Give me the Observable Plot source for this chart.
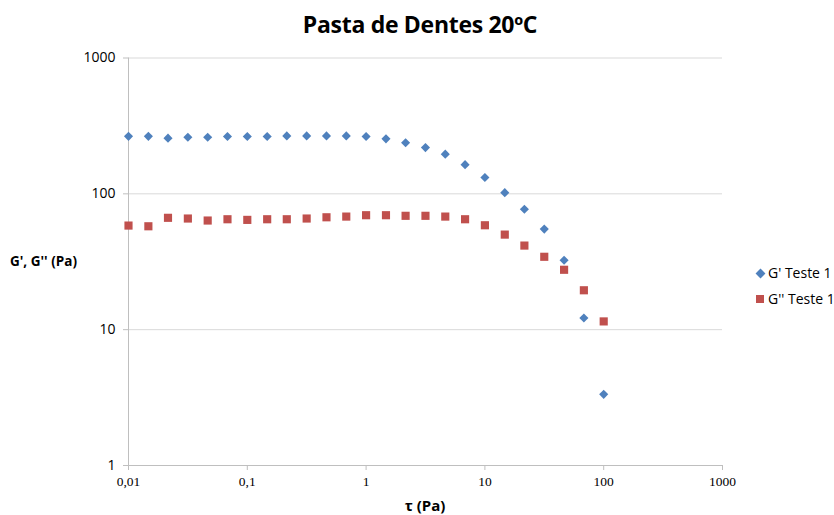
<!DOCTYPE html>
<html>
<head>
<meta charset="utf-8">
<script src="https://cdn.jsdelivr.net/npm/d3@7"></script>
<script src="https://cdn.jsdelivr.net/npm/@observablehq/plot@0.6"></script>
<style>
  html, body { margin: 0; padding: 0; background: #fff; }
  #wrap { position: relative; width: 834px; height: 515px; overflow: hidden; }
  .abs { position: absolute; white-space: nowrap; color: #000; }
  #title { left: 0; width: 840px; top: 8px; text-align: center; font: bold 23px "Open Sans", sans-serif; letter-spacing: -0.3px; }
  #xlabel { left: 0; width: 850px; top: 495px; text-align: center; font: bold 15px "Open Sans", sans-serif; }
  #ylabel { left: 10px; top: 252px; font: bold 13.5px "Open Sans", sans-serif; }
  .leg { font: 14px "Open Sans", sans-serif; color: #000; }
  .diam { position: absolute; width: 7px; height: 7px; background: #4F81BD; transform: rotate(45deg); }
  .sq { position: absolute; width: 8px; height: 8px; background: #C0504D; }
</style>
</head>
<body>
<div id="wrap"></div>
<script>
// Data
const tau = [0.01, 0.0147, 0.0215, 0.0316, 0.0464, 0.0681, 0.1, 0.147, 0.215, 0.316, 0.464, 0.681, 1, 1.47, 2.15, 3.16, 4.64, 6.81, 10, 14.7, 21.5, 31.6, 46.4, 68.1, 100];
const gPrime = [265, 265, 257, 261, 261, 264, 264, 264, 267, 267, 267, 267, 264, 254, 238, 219, 196, 164, 132, 102, 77, 55, 32.4, 12.2, 3.34];
const gDoublePrime = [58.4, 57.7, 66.6, 65.8, 63.6, 65.0, 64.3, 65.0, 65.0, 65.8, 67.2, 68.0, 69.6, 69.6, 68.9, 68.9, 68.0, 65.0, 58.7, 50.1, 41.6, 34.4, 27.6, 19.5, 11.5];
const seriesNames = ["G' Teste 1", "G'' Teste 1"];
const xTicks = [0.01, 0.1, 1, 10, 100, 1000];
const xTickLabels = ["0,01", "0,1", "1", "10", "100", "1000"];
const yTicks = [1, 10, 100, 1000];
const yTickLabels = ["1", "10", "100", "1000"];
const titleText = "Pasta de Dentes 20ºC";
const xTitle = "τ (Pa)";
const yTitle = "G', G'' (Pa)";

const blueData = tau.map((t, i) => ({x: t, y: gPrime[i]}));
const redData = tau.map((t, i) => ({x: t, y: gDoublePrime[i]}));

const chart = Plot.plot({
  width: 834,
  height: 515,
  marginLeft: 128,
  marginRight: 112,
  marginTop: 57.5,
  marginBottom: 50,
  style: {fontFamily: "Open Sans", fontSize: "14px", background: "white", color: "#000"},
  x: {type: "log", domain: [0.01, 1000]},
  y: {type: "log", domain: [1, 1000]},
  marks: [
    Plot.gridY(yTicks, {stroke: "#d9d9d9", strokeOpacity: 1, strokeWidth: 1}),
    Plot.ruleX([0.01], {stroke: "#bfbfbf", strokeWidth: 1}),
    Plot.ruleY([1], {stroke: "#bfbfbf", strokeWidth: 1}),
    Plot.axisY(yTicks, {
      anchor: "left", tickSize: 5, tickPadding: 8, stroke: "#bfbfbf", fill: "#000",
      tickFormat: (d) => yTickLabels[yTicks.indexOf(d)], label: null,
      fontFamily: "Open Sans", fontSize: 14
    }),
    Plot.axisX(xTicks, {
      anchor: "bottom", tickSize: 5, tickPadding: 6, stroke: "#bfbfbf", fill: "#000",
      tickFormat: (d) => xTickLabels[xTicks.indexOf(d)], label: null,
      fontFamily: "Liberation Serif", fontSize: 13.5
    }),
    Plot.dot(blueData, {x: "x", y: "y", symbol: "diamond2", r: 4.1, fill: "#4F81BD", stroke: null}),
    Plot.dot(redData, {x: "x", y: "y", symbol: "square", r: 4.6, fill: "#C0504D", stroke: null})
  ]
});

const wrap = document.getElementById("wrap");
wrap.appendChild(chart);

function addDiv(cls, id, text, style) {
  const d = document.createElement("div");
  d.className = cls;
  if (id) d.id = id;
  if (text != null) d.textContent = text;
  if (style) Object.assign(d.style, style);
  wrap.appendChild(d);
  return d;
}
addDiv("abs", "title", titleText);
addDiv("abs", "xlabel", xTitle);
addDiv("abs", "ylabel", yTitle);
// legend
addDiv("diam", null, null, {left: "756.5px", top: "269.5px"});
addDiv("abs leg", null, seriesNames[0], {left: "768px", top: "263px"});
addDiv("sq", null, null, {left: "756px", top: "295px"});
addDiv("abs leg", null, seriesNames[1], {left: "768px", top: "289px"});
</script>
</body>
</html>
